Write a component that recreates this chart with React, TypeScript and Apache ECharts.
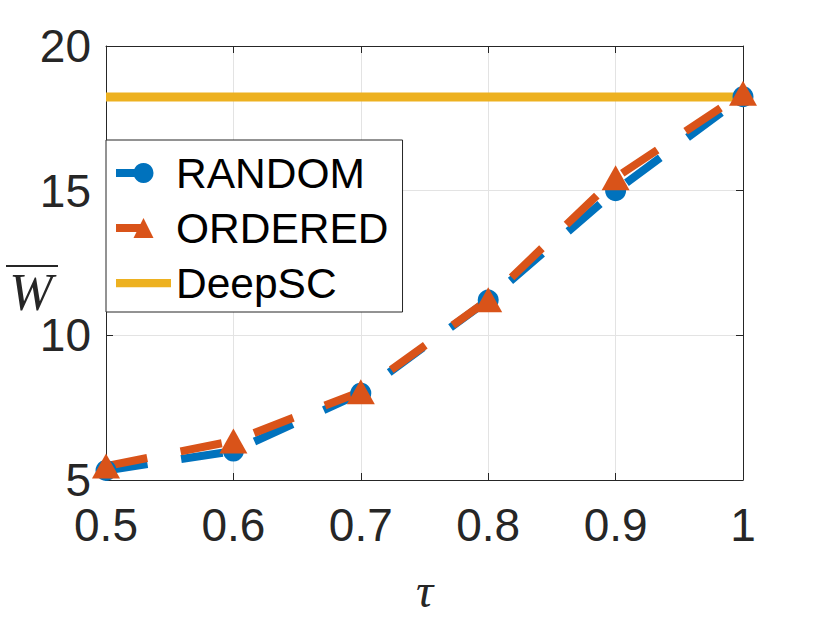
import React, { useEffect, useRef } from "react";
import * as echarts from "echarts";

const tauValues = [0.5, 0.6, 0.7, 0.8, 0.9, 1.0];
const randomW = [5.33, 6.0, 8.0, 11.22, 15.0, 18.25];
const orderedW = [5.48, 6.35, 8.05, 11.23, 15.45, 18.37];
const deepscW = 18.24;
const seriesNames = ["RANDOM", "ORDERED", "DeepSC"];
const xRange = [0.5, 1.0];
const yRange = [5, 20];

const SANS = "'Liberation Sans', Helvetica, Arial, sans-serif";
const SERIF = "'Liberation Serif', 'Times New Roman', serif";
const AX = "#262626";
const BLUE = "#0072BD";
const ORANGE = "#D95319";
const YELLOW = "#EDB120";

export default function App() {
  const ref = useRef<HTMLDivElement>(null);
  useEffect(() => {
    const chart = echarts.init(ref.current!, null, { renderer: "svg" });
    const hiddenAxis = {
      axisLabel: { show: false },
      splitLine: { show: false },
      axisTick: { show: true, inside: true, length: 7, lineStyle: { color: AX } },
      axisLine: { show: true, lineStyle: { color: AX, width: 1 } },
    };
    const option: any = {
      animation: false,
      backgroundColor: "#ffffff",
      grid: {
        left: 106,
        right: 79,
        top: 46,
        bottom: 137,
        containLabel: false,
        outerBoundsMode: "none",
      },
      xAxis: [
        {
          type: "value",
          min: xRange[0],
          max: xRange[1],
          interval: 0.1,
          name: "τ",
          nameLocation: "middle",
          nameGap: 86,
          nameTextStyle: { fontFamily: SERIF, fontStyle: "italic", fontSize: 48, lineHeight: 48, color: AX },
          axisLine: { show: true, lineStyle: { color: AX, width: 1 } },
          axisTick: { show: true, inside: true, length: 7, lineStyle: { color: AX } },
          axisLabel: {
            fontFamily: SANS,
            fontSize: 46,
            color: AX,
            margin: 22,
            formatter: (v: number) => String(Math.round(v * 10) / 10),
          },
          splitLine: { show: true, lineStyle: { color: "#e3e3e3", width: 1 } },
        },
        { type: "value", position: "top", min: xRange[0], max: xRange[1], interval: 0.1, ...hiddenAxis },
      ],
      yAxis: [
        {
          type: "value",
          min: yRange[0],
          max: yRange[1],
          interval: 5,
          axisLine: { show: true, lineStyle: { color: AX, width: 1 } },
          axisTick: { show: true, inside: true, length: 7, lineStyle: { color: AX } },
          axisLabel: { fontFamily: SANS, fontSize: 46, color: AX, margin: 15 },
          splitLine: { show: true, lineStyle: { color: "#e3e3e3", width: 1 } },
        },
        { type: "value", position: "right", min: yRange[0], max: yRange[1], interval: 5, ...hiddenAxis },
      ],
      legend: {
        data: [
          { name: seriesNames[0], lineStyle: { width: 8, type: [28, 40] } },
          { name: seriesNames[1], lineStyle: { width: 8, type: [28, 40] } },
          { name: seriesNames[2], icon: "path://M0,0H60V9H0Z" },
        ],
        orient: "vertical",
        left: 106,
        top: 140,
        padding: [8, 14, 4, 6],
        itemWidth: 55,
        itemHeight: 25,
        itemGap: 5,
        symbolKeepAspect: true,
        borderColor: AX,
        borderWidth: 1,
        borderRadius: 0,
        backgroundColor: "#ffffff",
        selectedMode: false,
        textStyle: { fontFamily: SANS, fontSize: 42.5, color: "#000", lineHeight: 50 },
      },
      graphic: [
        {
          type: "text",
          x: 31,
          y: 292,
          style: {
            text: "W",
            font: `italic 52px ${SERIF}`,
            fill: AX,
            textAlign: "center",
            textVerticalAlign: "middle",
          },
        },
        {
          type: "line",
          shape: { x1: 6, y1: 266, x2: 58, y2: 266 },
          style: { stroke: AX, lineWidth: 2 },
        },
      ],
      series: [
        {
          name: seriesNames[0],
          type: "line",
          data: tauValues.map((t, i) => [t, randomW[i]]),
          symbol: "circle",
          symbolSize: 21,
          clip: false,
          lineStyle: { color: BLUE, width: 8, type: [42, 34], cap: "butt" },
          itemStyle: { color: BLUE },
        },
        {
          name: seriesNames[1],
          type: "line",
          data: tauValues.map((t, i) => [t, orderedW[i]]),
          symbol: "triangle",
          symbolSize: [28, 25],
          clip: false,
          lineStyle: { color: ORANGE, width: 8, type: [42, 34], cap: "butt" },
          itemStyle: { color: ORANGE },
        },
        {
          name: seriesNames[2],
          type: "line",
          data: [
            [xRange[0], deepscW],
            [xRange[1], deepscW],
          ],
          symbol: "none",
          clip: false,
          lineStyle: { color: YELLOW, width: 9, type: "solid", cap: "butt" },
          itemStyle: { color: YELLOW },
        },
      ],
    };
    chart.setOption(option);
    return () => chart.dispose();
  }, []);
  return (
    <div
      ref={ref}
      style={{ position: "fixed", left: 0, top: 0, width: 822, height: 617, background: "#fff" }}
    />
  );
}
